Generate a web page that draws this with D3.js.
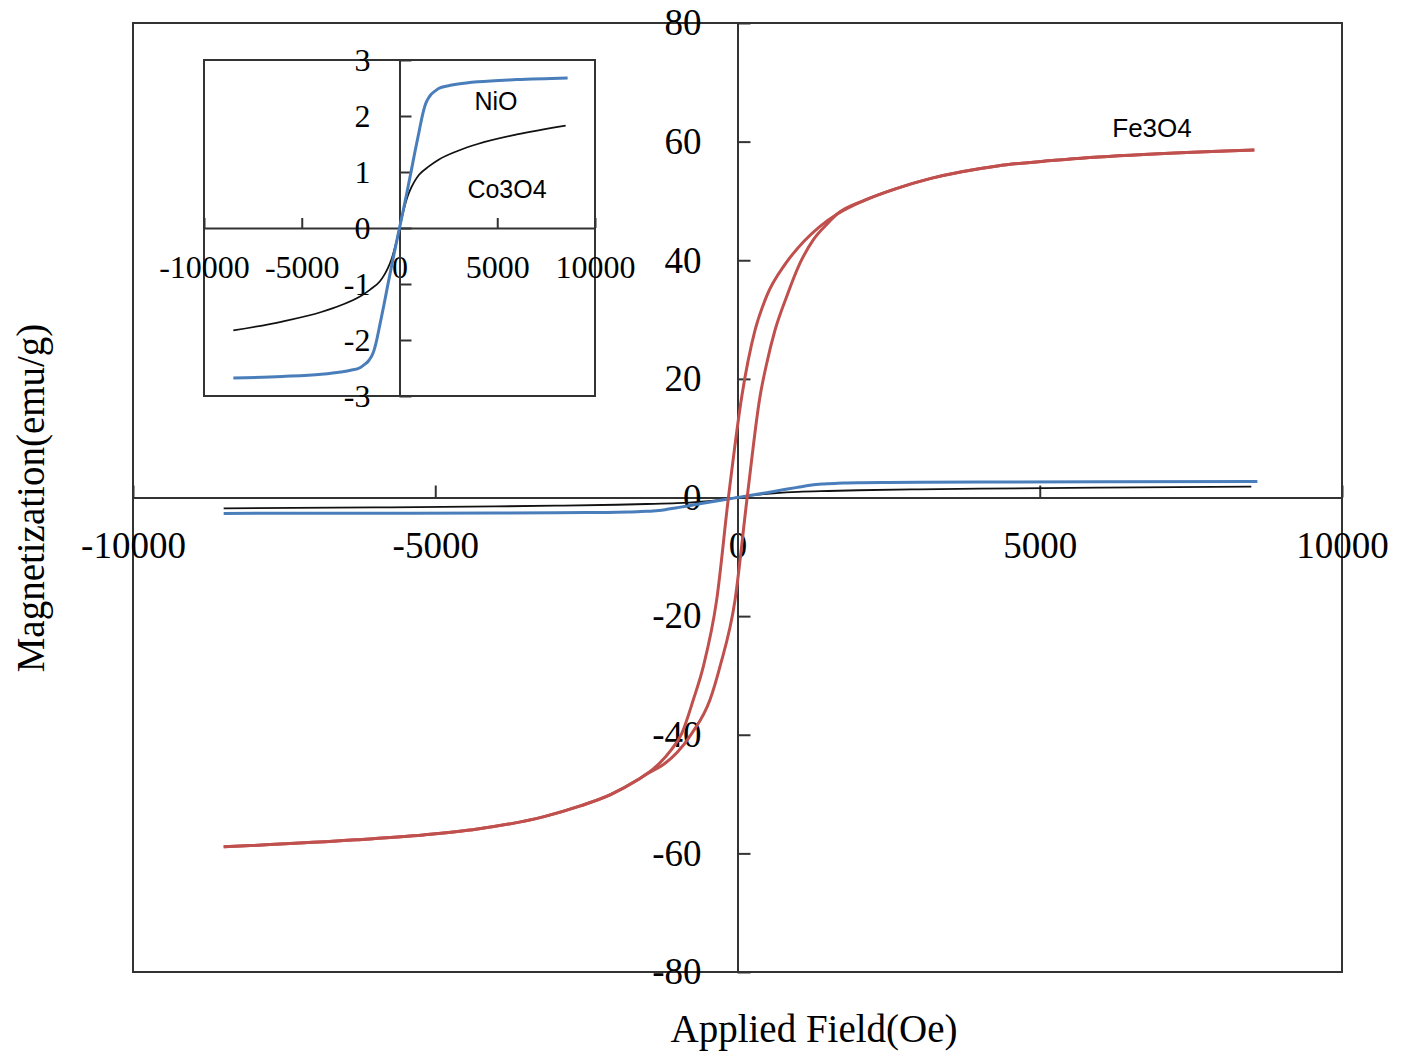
<!DOCTYPE html>
<html>
<head>
<meta charset="utf-8">
<script src="https://cdn.jsdelivr.net/npm/d3@7"></script>
<style>
  body { margin: 0; background: #fff; }
  svg { display: block; }
  .tick text { font-family: "Liberation Serif", "Times New Roman", serif; fill: #000; }
</style>
</head>
<body>
<div id="chart"></div>
<script>
// Fe3O4 hysteresis loop, two branches (field in Oe, magnetization in emu/g)
const fieldFeDown = [-8500, -6300, -5200, -4300, -3200, -2600, -2100, -1650, -1500, -1300, -1100, -923, -731, -566, -345, -150, 70, 290, 480, 800, 1100, 1350, 1650, 2100, 2600, 3200, 4300, 5200, 6300, 8550];
const magFeDown   = [-58.9, -57.7, -56.9, -55.9, -53.8, -52.0, -50.1, -47.6, -46.6, -44.9, -42.6, -39.8, -34.1, -28.5, -17.3, 0, 17, 28.2, 33.9, 39.5, 43.2, 45.6, 47.8, 50.1, 52.0, 53.8, 55.9, 56.8, 57.6, 58.6];
const fieldFeUp   = [-8500, -6300, -5200, -4300, -3200, -2600, -2100, -1650, -1500, -1250, -1000, -758, -455, -290, -41, 160, 372, 483, 620, 814, 1034, 1250, 1500, 1650, 2100, 2600, 3200, 4300, 5200, 6300, 8550];
const magFeUp     = [-58.9, -57.7, -56.9, -55.9, -53.8, -52.0, -50.1, -47.6, -46.6, -45.2, -43.0, -39.8, -34.1, -28.5, -17.3, 0, 17, 22.6, 28.2, 33.9, 39.5, 43.4, 46.3, 47.8, 50.1, 52.0, 53.8, 55.9, 56.8, 57.6, 58.6];

// NiO
const fieldNiO = [-8500, -6000, -4000, -3000, -2500, -2000, -1800, -1600, -1500, -1400, -1300, -1200, -1000, -800, -600, -400, -200, 0, 200, 400, 600, 800, 1000, 1200, 1300, 1400, 1500, 1600, 1800, 2000, 2500, 3000, 4000, 6000, 8600];
const magNiO   = [-2.68, -2.65, -2.61, -2.57, -2.54, -2.49, -2.44, -2.38, -2.33, -2.27, -2.18, -2.05, -1.72, -1.38, -1.02, -0.67, -0.33, 0, 0.33, 0.67, 1.02, 1.38, 1.72, 2.05, 2.18, 2.27, 2.33, 2.38, 2.44, 2.49, 2.54, 2.57, 2.61, 2.65, 2.68];

// Co3O4
const fieldCo = [-8500, -6000, -4000, -3000, -2000, -1500, -1000, -800, -600, -400, -200, 0, 200, 400, 600, 800, 1000, 1500, 2000, 3000, 4000, 6000, 8500];
const magCo   = [-1.83, -1.67, -1.5, -1.38, -1.22, -1.1, -0.95, -0.85, -0.72, -0.55, -0.3, 0, 0.3, 0.55, 0.72, 0.85, 0.95, 1.1, 1.22, 1.38, 1.5, 1.67, 1.83];

const mainXTicks = [-10000, -5000, 0, 5000, 10000];
const mainYTicks = [-80, -60, -40, -20, 0, 20, 40, 60, 80];
const insetXTicks = [-10000, -5000, 0, 5000, 10000];
const insetYTicks = [-3, -2, -1, 0, 1, 2, 3];

const zip = (xs, ys) => xs.map((x, i) => ({x: x, y: ys[i]}));
const plain = d => String(d);   // keep the ascii hyphen like the original

const width = 1408, height = 1057;
const svg = d3.select('#chart').append('svg')
    .attr('width', width)
    .attr('height', height);

const frameColor = '#333';
const red = '#c0504d', blue = '#4a7ebb', black = '#111';

// main plot
const x = d3.scaleLinear().domain([-10000, 10000]).range([133, 1342]);
const y = d3.scaleLinear().domain([-80, 80]).range([972, 23]);

svg.append('rect')
    .attr('x', x(-10000)).attr('y', y(80))
    .attr('width', x(10000) - x(-10000)).attr('height', y(-80) - y(80))
    .attr('fill', 'none').attr('stroke', frameColor).attr('stroke-width', 2);

// axes cross at zero
let xAxis = svg.append('g')
    .attr('transform', 'translate(0,' + y(0) + ')')
    .call(d3.axisBottom(x).tickValues(mainXTicks).tickSizeInner(-12).tickSizeOuter(0).tickPadding(34).tickFormat(plain));
xAxis.select('.domain').attr('stroke', frameColor).attr('stroke-width', 2);
xAxis.selectAll('.tick line').attr('stroke', frameColor).attr('stroke-width', 2);
xAxis.selectAll('.tick text').style('font-size', '37px');
xAxis.attr('font-family', null).attr('font-size', null);

let yAxis = svg.append('g')
    .attr('transform', 'translate(' + x(0) + ',0)')
    .call(d3.axisLeft(y).tickValues(mainYTicks).tickSizeInner(-13).tickSizeOuter(0).tickPadding(36).tickFormat(plain));
yAxis.select('.domain').attr('stroke', frameColor).attr('stroke-width', 2);
yAxis.selectAll('.tick line').attr('stroke', frameColor).attr('stroke-width', 2);
yAxis.selectAll('.tick text').style('font-size', '37px');
yAxis.attr('font-family', null).attr('font-size', null);

const line = d3.line()
    .x(d => x(d.x))
    .y(d => y(d.y))
    .curve(d3.curveMonotoneX);

svg.append('path').datum(zip(fieldCo, magCo))
    .attr('d', line).attr('fill', 'none').attr('stroke', black).attr('stroke-width', 1.8);
svg.append('path').datum(zip(fieldNiO, magNiO))
    .attr('d', line).attr('fill', 'none').attr('stroke', blue).attr('stroke-width', 3);
svg.append('path').datum(zip(fieldFeDown, magFeDown))
    .attr('d', line).attr('fill', 'none').attr('stroke', red).attr('stroke-width', 3);
svg.append('path').datum(zip(fieldFeUp, magFeUp))
    .attr('d', line).attr('fill', 'none').attr('stroke', red).attr('stroke-width', 3);

svg.append('text')
    .attr('x', 1152).attr('y', 137)
    .attr('text-anchor', 'middle')
    .style('font-family', '"Liberation Sans", Arial, sans-serif')
    .style('font-size', '26px')
    .text('Fe3O4');

// axis titles
svg.append('text')
    .attr('x', 814).attr('y', 1042)
    .attr('text-anchor', 'middle')
    .style('font-family', '"Liberation Serif", serif')
    .style('font-size', '39px')
    .text('Applied Field(Oe)');

svg.append('text')
    .attr('transform', 'translate(44,498) rotate(-90)')
    .attr('text-anchor', 'middle')
    .style('font-family', '"Liberation Serif", serif')
    .style('font-size', '39px')
    .text('Magnetization(emu/g)');

// inset plot
const xi = d3.scaleLinear().domain([-10000, 10000]).range([204, 595]);
const yi = d3.scaleLinear().domain([-3, 3]).range([396, 60]);

const inset = svg.append('g');

inset.append('rect')
    .attr('x', xi(-10000)).attr('y', yi(3))
    .attr('width', xi(10000) - xi(-10000)).attr('height', yi(-3) - yi(3))
    .attr('fill', '#fff').attr('stroke', frameColor).attr('stroke-width', 2);

let xiAxis = inset.append('g')
    .attr('transform', 'translate(0,' + yi(0) + ')')
    .call(d3.axisBottom(xi).tickValues(insetXTicks).tickSizeInner(-10).tickSizeOuter(0).tickPadding(27).tickFormat(plain));
xiAxis.select('.domain').attr('stroke', frameColor).attr('stroke-width', 2);
xiAxis.selectAll('.tick line').attr('stroke', frameColor).attr('stroke-width', 2);
xiAxis.selectAll('.tick text').style('font-size', '32px');
xiAxis.attr('font-family', null).attr('font-size', null);

let yiAxis = inset.append('g')
    .attr('transform', 'translate(' + xi(0) + ',0)')
    .call(d3.axisLeft(yi).tickValues(insetYTicks).tickSizeInner(-12).tickSizeOuter(0).tickPadding(29).tickFormat(plain));
yiAxis.select('.domain').attr('stroke', frameColor).attr('stroke-width', 2);
yiAxis.selectAll('.tick line').attr('stroke', frameColor).attr('stroke-width', 2);
yiAxis.selectAll('.tick text').style('font-size', '32px');
yiAxis.attr('font-family', null).attr('font-size', null);

const lineInset = d3.line()
    .x(d => xi(d.x))
    .y(d => yi(d.y))
    .curve(d3.curveMonotoneX);

inset.append('path').datum(zip(fieldCo, magCo))
    .attr('d', lineInset).attr('fill', 'none').attr('stroke', black).attr('stroke-width', 1.8);
inset.append('path').datum(zip(fieldNiO, magNiO))
    .attr('d', lineInset).attr('fill', 'none').attr('stroke', blue).attr('stroke-width', 3);

inset.append('text')
    .attr('x', 496).attr('y', 110)
    .attr('text-anchor', 'middle')
    .style('font-family', '"Liberation Sans", Arial, sans-serif')
    .style('font-size', '25px')
    .text('NiO');

inset.append('text')
    .attr('x', 507).attr('y', 198)
    .attr('text-anchor', 'middle')
    .style('font-family', '"Liberation Sans", Arial, sans-serif')
    .style('font-size', '25px')
    .text('Co3O4');
</script>
</body>
</html>
